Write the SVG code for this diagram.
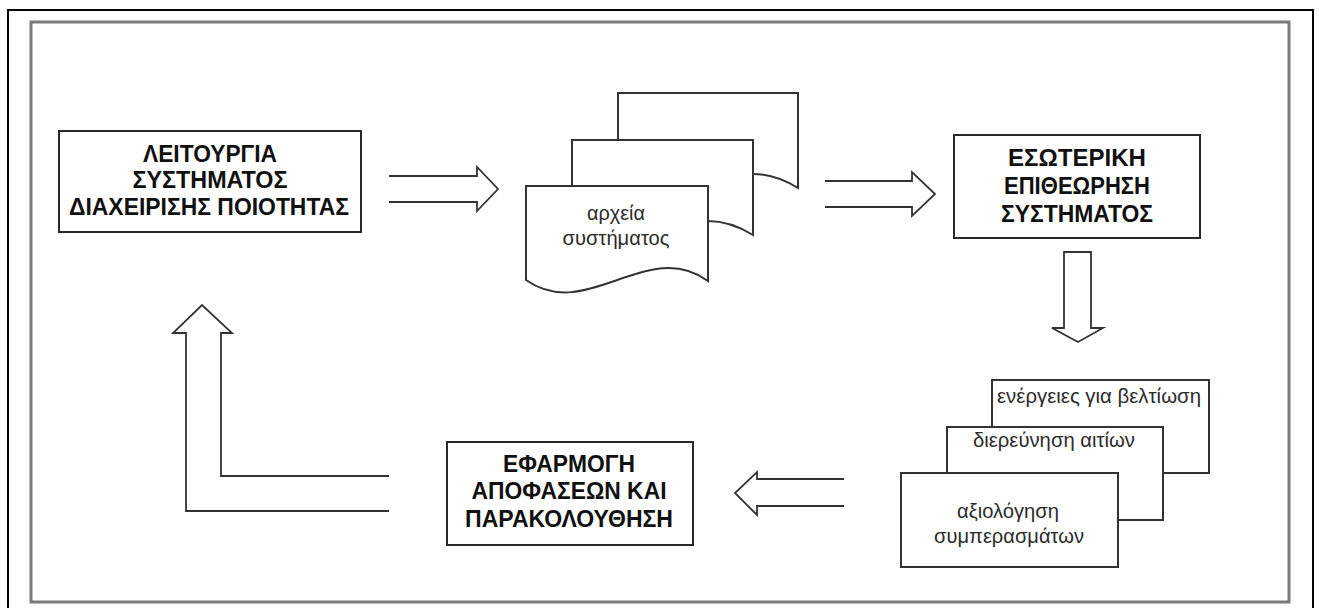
<svg xmlns="http://www.w3.org/2000/svg" width="1319" height="608" viewBox="0 0 1319 608">
  <style>
    .frame-outer { fill: #ffffff; stroke: #000000; stroke-width: 2; }
    .frame-inner { fill: #ffffff; stroke: #7a7a7a; stroke-width: 3; }
    .box { fill: #ffffff; stroke: #2a2a2a; stroke-width: 2; }
    .doc { fill: #ffffff; stroke: #333333; stroke-width: 2; stroke-linejoin: miter; }
    .arrow { fill: none; stroke: #333333; stroke-width: 1.8; stroke-linejoin: miter; }
    .title { font-family: "Liberation Sans", Arial, sans-serif; font-weight: bold; font-size: 23px; fill: #111111; text-anchor: middle; }
    .label { font-family: "Liberation Sans", Arial, sans-serif; font-size: 19.5px; fill: #2b2b2b; text-anchor: middle; }
  </style>

  <!-- page frame -->
  <rect class="frame-outer" x="8" y="10" width="1305" height="610"/>
  <rect class="frame-inner" x="31" y="22" width="1258" height="580"/>

  <!-- block arrows -->
  <g id="connectors">
    <path class="arrow" d="M389,176 L477,176 L477,167 L498,189 L477,211 L477,202 L389,202"/>
    <path class="arrow" d="M825,181 L912,181 L912,172 L935,194 L912,216 L912,207 L825,207"/>
    <path class="arrow" d="M1064,252 L1091,252 L1091,328 L1103,328 L1078,342 L1052,328 L1064,328 Z"/>
    <path class="arrow" d="M844,479 L757,479 L757,472 L735,493 L757,515 L757,506 L844,506"/>
    <path class="arrow" d="M389,476 L221,476 L221,333 L232,333 L202,305 L173,333 L186,333 L186,511 L389,511"/>
  </g>

  <g id="node-operation">
    <rect class="box" x="59" y="131" width="302" height="101"/>
    <text class="title" x="210" y="162" textLength="134" lengthAdjust="spacingAndGlyphs">ΛΕΙΤΟΥΡΓΙΑ</text>
    <text class="title" x="210" y="188" textLength="155" lengthAdjust="spacingAndGlyphs">ΣΥΣΤΗΜΑΤΟΣ</text>
    <text class="title" x="209" y="215" textLength="280" lengthAdjust="spacingAndGlyphs">ΔΙΑΧΕΙΡΙΣΗΣ ΠΟΙΟΤΗΤΑΣ</text>
  </g>

  <g id="node-records">
    <path class="doc" d="M618,93 L798,93 L798,188 C785,180 770,174 753,174 L753,140 L618,140 Z"/>
    <path class="doc" d="M572,140 L753,140 L753,235 C740,227 725,221 708,221 L708,186 L572,186 Z"/>
    <path class="doc" d="M526,186 L708,186 L708,281 C647,237 587,323 526,280 Z"/>
    <text class="label" x="616" y="220" textLength="58" lengthAdjust="spacingAndGlyphs">αρχεία</text>
    <text class="label" x="616" y="245" textLength="107" lengthAdjust="spacingAndGlyphs">συστήματος</text>
  </g>

  <g id="node-audit">
    <rect class="box" x="954" y="135" width="246" height="103"/>
    <text class="title" x="1077" y="166" textLength="138" lengthAdjust="spacingAndGlyphs">ΕΣΩΤΕΡΙΚΗ</text>
    <text class="title" x="1077" y="194" textLength="146" lengthAdjust="spacingAndGlyphs">ΕΠΙΘΕΩΡΗΣΗ</text>
    <text class="title" x="1077" y="222" textLength="152" lengthAdjust="spacingAndGlyphs">ΣΥΣΤΗΜΑΤΟΣ</text>
  </g>

  <g id="node-review">
    <rect class="doc" x="992" y="380" width="217" height="93"/>
    <rect class="doc" x="947" y="427" width="216" height="93"/>
    <rect class="doc" x="901" y="473" width="217" height="94"/>
    <text class="label" x="1099" y="403" textLength="204" lengthAdjust="spacingAndGlyphs">ενέργειες για βελτίωση</text>
    <text class="label" x="1054" y="447" textLength="162" lengthAdjust="spacingAndGlyphs">διερεύνηση αιτίων</text>
    <text class="label" x="1008" y="518" textLength="102" lengthAdjust="spacingAndGlyphs">αξιολόγηση</text>
    <text class="label" x="1009" y="543" textLength="150" lengthAdjust="spacingAndGlyphs">συμπερασμάτων</text>
  </g>

  <g id="node-implementation">
    <rect class="box" x="447" y="442" width="246" height="103"/>
    <text class="title" x="569" y="472" textLength="132" lengthAdjust="spacingAndGlyphs">ΕΦΑΡΜΟΓΗ</text>
    <text class="title" x="569" y="499" textLength="195" lengthAdjust="spacingAndGlyphs">ΑΠΟΦΑΣΕΩΝ ΚΑΙ</text>
    <text class="title" x="569" y="527" textLength="208" lengthAdjust="spacingAndGlyphs">ΠΑΡΑΚΟΛΟΥΘΗΣΗ</text>
  </g>
</svg>
